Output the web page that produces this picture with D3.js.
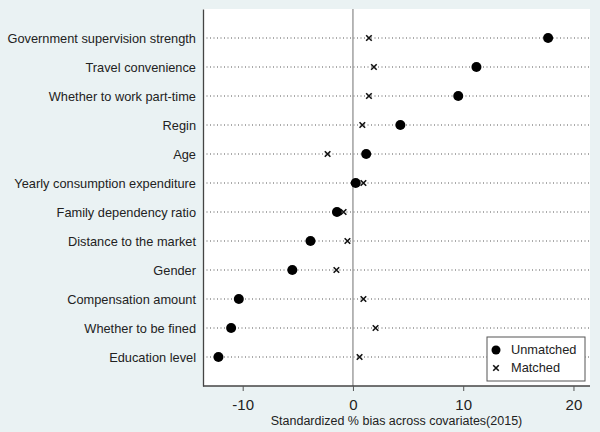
<!DOCTYPE html>
<html>
<head>
<meta charset="utf-8">
<script src="https://cdn.jsdelivr.net/npm/d3@7"></script>
<style>
  body { margin: 0; background: #eaf2f3; }
  svg { display: block; font-family: "Liberation Sans", Arial, sans-serif; }
</style>
</head>
<body>
<svg width="600" height="432"></svg>
<script>
const covariates = [
  "Government supervision strength",
  "Travel convenience",
  "Whether to work part-time",
  "Regin",
  "Age",
  "Yearly consumption expenditure",
  "Family dependency ratio",
  "Distance to the market",
  "Gender",
  "Compensation amount",
  "Whether to be fined",
  "Education level"
];
const unmatched = [17.7, 11.2, 9.55, 4.3, 1.2, 0.25, -1.45, -3.85, -5.5, -10.35, -11.05, -12.2];
const matched = [1.45, 1.9, 1.45, 0.85, -2.3, 0.95, -0.85, -0.5, -1.5, 0.95, 2.05, 0.6];
const xTicks = [-10, 0, 10, 20];

let svg = d3.select("svg");
let margin = {top: 9, right: 10, bottom: 46, left: 203};
let width = 600 - margin.left - margin.right,
  height = 432 - margin.top - margin.bottom;

let xScale = d3.scaleLinear()
  .domain([-13.6, 21.5])
  .range([0, width]);

let yScale = d3.scalePoint()
  .domain(covariates)
  .range([0, height])
  .padding(1);

let g = svg.append("g")
  .attr("transform", "translate(" + margin.left + "," + margin.top + ")");

g.append("rect")
  .attr("width", width)
  .attr("height", height)
  .attr("fill", "#fff");

// dotted row lines
g.selectAll(".row")
  .data(covariates)
  .enter().append("line")
  .attr("x1", 0)
  .attr("x2", width)
  .attr("y1", d => yScale(d))
  .attr("y2", d => yScale(d))
  .attr("stroke", "#555")
  .attr("stroke-width", 1)
  .attr("stroke-dasharray", "1,2.5");

// zero line
g.append("line")
  .attr("x1", xScale(0)).attr("x2", xScale(0))
  .attr("y1", 0).attr("y2", height)
  .attr("stroke", "#888")
  .attr("stroke-width", 1.2);

// matched crosses
let cross = d3.symbol().type(d3.symbolX).size(22);
g.selectAll(".matched")
  .data(matched)
  .enter().append("path")
  .attr("d", cross)
  .attr("transform", (d, i) => "translate(" + xScale(d) + "," + yScale(covariates[i]) + ")")
  .attr("fill", "none")
  .attr("stroke", "#111")
  .attr("stroke-width", 1.6);

// unmatched dots
g.selectAll(".unmatched")
  .data(unmatched)
  .enter().append("circle")
  .attr("cx", d => xScale(d))
  .attr("cy", (d, i) => yScale(covariates[i]))
  .attr("r", 5)
  .attr("fill", "#000");

// y axis
let yAxis = d3.axisLeft(yScale).tickSize(0).tickPadding(7);
let ya = g.append("g").call(yAxis);
ya.select(".domain").attr("stroke", "#444").attr("stroke-width", 1.3);
ya.selectAll("text")
  .attr("font-size", 12.8)
  .attr("fill", "#222")
  .attr("font-family", "Liberation Sans, Arial, sans-serif");

// x axis
let xAxis = d3.axisBottom(xScale)
  .tickValues(xTicks)
  .tickFormat(d => String(d))
  .tickSize(5)
  .tickPadding(8);
let xa = g.append("g")
  .attr("transform", "translate(0," + height + ")")
  .call(xAxis);
xa.select(".domain").attr("stroke", "#444").attr("stroke-width", 1.3).attr("d", "M0,0H" + width);
xa.selectAll(".tick line").attr("stroke", "#555");
xa.selectAll("text")
  .attr("font-size", 15)
  .attr("fill", "#222")
  .attr("font-family", "Liberation Sans, Arial, sans-serif");

svg.append("text")
  .attr("x", margin.left + width / 2)
  .attr("y", 425)
  .attr("text-anchor", "middle")
  .attr("font-size", 12.5)
  .attr("fill", "#222")
  .text("Standardized % bias across covariates(2015)");

// legend
let legend = svg.append("g").attr("transform", "translate(487,337)");
legend.append("rect")
  .attr("width", 98)
  .attr("height", 44)
  .attr("fill", "#fff")
  .attr("stroke", "#555")
  .attr("stroke-width", 1);
legend.append("circle")
  .attr("cx", 9).attr("cy", 13).attr("r", 4.5).attr("fill", "#000");
legend.append("path")
  .attr("d", cross)
  .attr("transform", "translate(9,31)")
  .attr("fill", "none")
  .attr("stroke", "#111")
  .attr("stroke-width", 1.6);
legend.selectAll(".ltext")
  .data(["Unmatched", "Matched"])
  .enter().append("text")
  .attr("x", 24)
  .attr("y", (d, i) => 13 + i * 18)
  .attr("dy", "0.35em")
  .attr("font-size", 12.8)
  .attr("fill", "#222")
  .text(d => d);
</script>
</body>
</html>
